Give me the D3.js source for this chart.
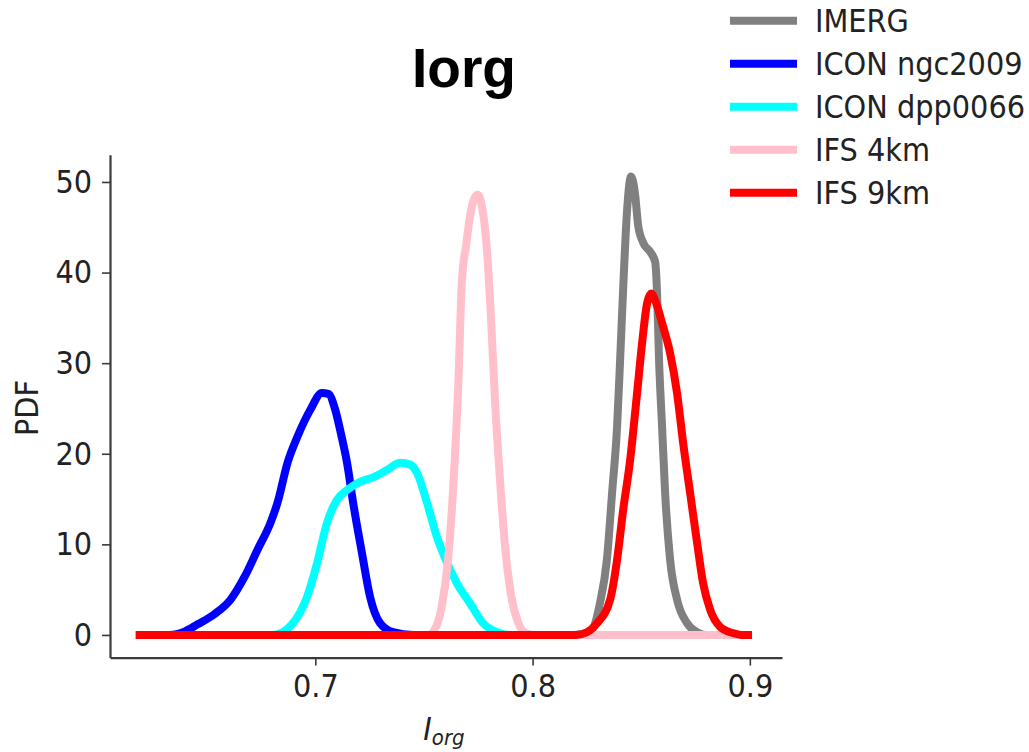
<!DOCTYPE html>
<html>
<head>
<meta charset="utf-8">
<script src="https://cdn.jsdelivr.net/npm/d3@7"></script>
<style>
  html, body { margin: 0; padding: 0; background: #fff; }
  svg { display: block; }
  .lbl { font-family: "DejaVu Sans Condensed", "DejaVu Sans", sans-serif; font-stretch: condensed; fill: #222; }
</style>
</head>
<body>
<svg id="chart" width="1029" height="752"></svg>
<script>
// Kernel density estimates of the organisation index Iorg, one [x, pdf] list per dataset
const seriesNames = ["IMERG", "ICON ngc2009", "ICON dpp0066", "IFS 4km", "IFS 9km"];
const seriesColors = ["#808080", "#0000ff", "#00ffff", "#ffc0cb", "#ff0000"];

const imerg = [
  [0.6174, 0], [0.8190, 0], [0.8232, 0.1], [0.8273, 0.55], [0.8310, 3.5], [0.8342, 8.3],
  [0.8366, 15.7], [0.8389, 23.0], [0.8403, 30.4], [0.8416, 37.7], [0.8435, 46.9],
  [0.8453, 50.6], [0.8472, 48.6], [0.8486, 45.2], [0.8509, 43.3], [0.8541, 42.3],
  [0.8564, 41.2], [0.8573, 37.7], [0.8582, 30.4], [0.8596, 23.0], [0.8610, 15.7],
  [0.8633, 8.3], [0.8665, 3.9], [0.8711, 1.3], [0.8757, 0.3], [0.8794, 0], [0.9010, 0]
];
const iconNgc2009 = [
  [0.6174, 0], [0.6330, 0], [0.6400, 0.4], [0.6460, 1.2], [0.6536, 2.3], [0.6610, 3.9],
  [0.6674, 6.4], [0.6734, 9.4], [0.6794, 12.4], [0.6826, 14.6], [0.6872, 19.0],
  [0.6918, 21.9], [0.6978, 24.9], [0.7030, 26.7], [0.7060, 26.6], [0.7090, 25.0],
  [0.7120, 22.0], [0.7146, 19.0], [0.7174, 14.6], [0.7215, 9.0], [0.7252, 4.2],
  [0.7298, 1.3], [0.7358, 0.3], [0.7450, 0], [0.9010, 0]
];
const iconDpp0066 = [
  [0.6174, 0], [0.6800, 0], [0.6850, 0.3], [0.6890, 1.1], [0.6930, 2.5], [0.6962, 4.2],
  [0.7008, 7.9], [0.7054, 12.4], [0.7100, 14.9], [0.7146, 16.0], [0.7206, 16.9],
  [0.7266, 17.4], [0.7330, 18.2], [0.7390, 19.0], [0.7436, 18.8], [0.7468, 17.9],
  [0.7514, 14.6], [0.7560, 10.8], [0.7606, 8.0], [0.7652, 5.7], [0.7712, 3.5],
  [0.7772, 1.3], [0.7836, 0.3], [0.7890, 0], [0.9010, 0]
];
const ifs4km = [
  [0.6174, 0], [0.7519, 0], [0.7556, 0.9], [0.7583, 3.3], [0.7611, 8.3], [0.7634, 16.0],
  [0.7657, 27.0], [0.7675, 39.2], [0.7694, 43.0], [0.7712, 46.2], [0.7732, 48.2],
  [0.7748, 48.6], [0.7766, 47.4], [0.7790, 42.5], [0.7809, 34.8], [0.7827, 25.9],
  [0.7850, 17.1], [0.7873, 9.9], [0.7901, 4.4], [0.7933, 1.4], [0.7970, 0.2],
  [0.8011, 0], [0.9010, 0]
];
const ifs9km = [
  [0.6174, 0], [0.8200, 0], [0.8250, 0.3], [0.8297, 1.3], [0.8357, 3.9], [0.8389, 8.3],
  [0.8417, 13.8], [0.8449, 19.3], [0.8481, 26.7], [0.8504, 32.2], [0.8527, 36.6],
  [0.8546, 37.7], [0.8569, 36.6], [0.8601, 34.0], [0.8633, 31.1], [0.8665, 26.7],
  [0.8693, 21.2], [0.8725, 15.7], [0.8757, 10.2], [0.8785, 5.7], [0.8817, 2.8],
  [0.8863, 0.9], [0.8923, 0.2], [0.8960, 0], [0.9010, 0]
];
const seriesData = [imerg, iconNgc2009, iconDpp0066, ifs4km, ifs9km];

const xTicks = [0.7, 0.8, 0.9];
const yTicks = [0, 10, 20, 30, 40, 50];

const svg = d3.select("#chart");

const x = d3.scaleLinear().domain([0.6055, 0.9148]).range([110, 782]);
const y = d3.scaleLinear().domain([-2.5, 53]).range([657.6, 154.8]);

// axes
const xAxis = svg.append("g")
  .attr("transform", `translate(0,${y.range()[0]})`)
  .call(d3.axisBottom(x).tickValues(xTicks).tickFormat(d3.format(".1f"))
    .tickSize(8).tickSizeOuter(0).tickPadding(9));
const yAxis = svg.append("g")
  .attr("transform", `translate(${x.range()[0]},0)`)
  .call(d3.axisLeft(y).tickValues(yTicks).tickFormat(d3.format("d"))
    .tickSize(8).tickSizeOuter(0).tickPadding(10));

[xAxis, yAxis].forEach(g => {
  g.select(".domain").attr("stroke", "#3a3a3a").attr("stroke-width", 2.2);
  g.selectAll(".tick line").attr("stroke", "#3a3a3a").attr("stroke-width", 1.6);
  g.selectAll(".tick text").attr("class", "lbl").attr("font-size", 32).attr("fill", "#222");
});

// density curves
const line = d3.line()
  .x(d => x(d[0]))
  .y(d => y(d[1]))
  .curve(d3.curveMonotoneX);

svg.append("g").selectAll("path")
  .data(seriesData)
  .join("path")
  .attr("d", line)
  .attr("fill", "none")
  .attr("stroke", (d, i) => seriesColors[i])
  .attr("stroke-width", 8)
  .attr("stroke-linejoin", "round")
  .attr("stroke-linecap", "butt");

// title
svg.append("text")
  .attr("x", 464).attr("y", 87)
  .attr("text-anchor", "middle")
  .attr("font-family", "'Liberation Sans', Arial, sans-serif")
  .attr("font-weight", "bold")
  .attr("font-size", 55)
  .attr("fill", "#000")
  .text("Iorg");

// y label
svg.append("text")
  .attr("class", "lbl")
  .attr("font-size", 32)
  .attr("text-anchor", "middle")
  .attr("transform", "translate(38,408) rotate(-90)")
  .text("PDF");

// x label: italic I with subscript org
const xl = svg.append("text")
  .attr("class", "lbl")
  .attr("x", 444).attr("y", 740)
  .attr("text-anchor", "middle")
  .attr("font-style", "italic")
  .attr("font-size", 32);
xl.append("tspan").text("I");
xl.append("tspan").attr("font-size", 22).attr("dy", 5).text("org");

// legend
const legend = svg.append("g").selectAll("g")
  .data(seriesNames)
  .join("g")
  .attr("transform", (d, i) => `translate(730,${20.7 + i * 43})`);
legend.append("line")
  .attr("x1", 0).attr("x2", 67)
  .attr("stroke", (d, i) => seriesColors[i])
  .attr("stroke-width", 8);
legend.append("text")
  .attr("class", "lbl")
  .attr("x", 85).attr("dy", "0.36em")
  .attr("font-size", 32)
  .text(d => d);
</script>
</body>
</html>
